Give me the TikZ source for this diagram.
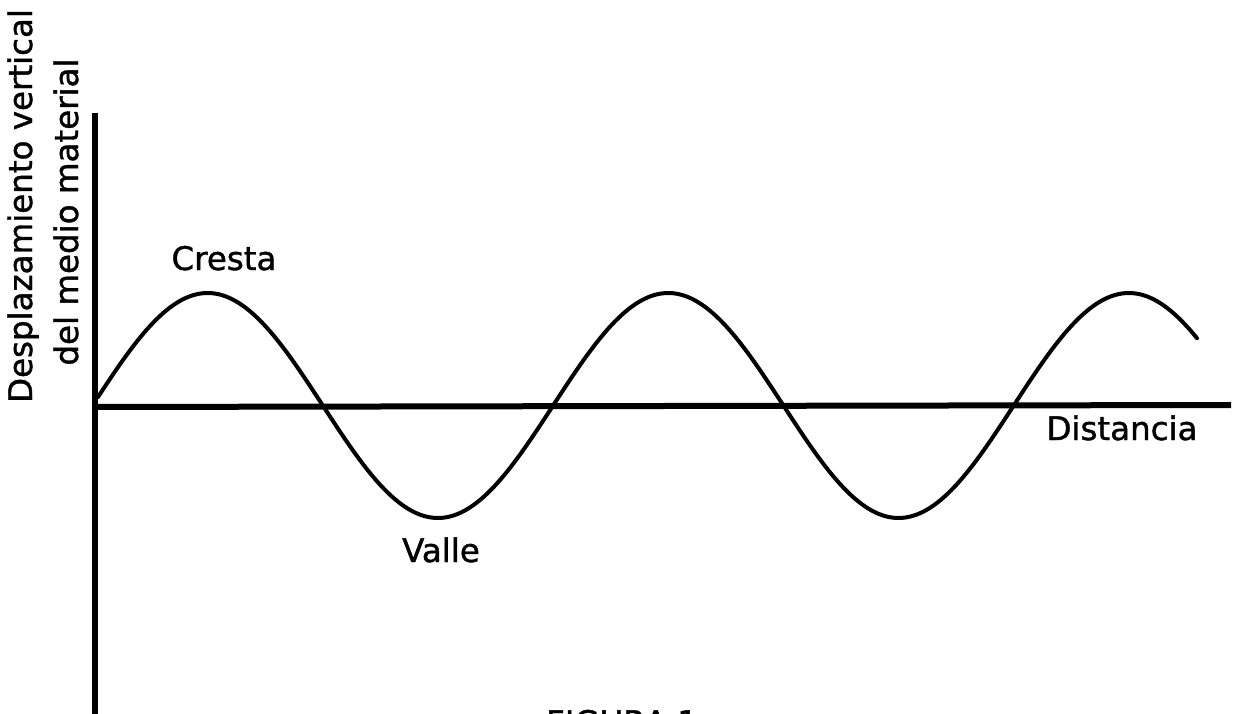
\documentclass[tikz,border=0pt]{standalone}
\usepackage{fontspec}
\setmainfont[FakeBold=1.2]{DejaVu Sans}
\begin{document}
\begin{tikzpicture}[x=1pt,y=-1pt,
  axis/.style={line width=6pt},
  wave/.style={line width=4pt, line cap=round, line join=round},
  lbl/.style={inner sep=0pt, anchor=base, font=\fontsize{32.5}{39}\selectfont}]
\useasboundingbox (0,0) rectangle (1236,714);
\coordinate (O) at (95,407);
\coordinate (ytop) at (95,113);
\coordinate (ybot) at (95,724);
\coordinate (xend) at (1231,405);
\draw[axis] (ytop) -- (ybot);
\draw[axis] (O) -- (xend);
\draw[wave] plot[domain=98:1197, samples=220, smooth] (\x, {405.5-112.5*sin(0.781589*(\x-92.5))});
\node[lbl, rotate=90] (ylab1) at (32,206) {Desplazamiento vertical};
\node[lbl, rotate=90] (ylab2) at (78,212) {del medio material};
\node[lbl] (cresta) at (224,270) {Cresta};
\node[lbl] (valle) at (441,562) {Valle};
\node[lbl] (dist) at (1122,440) {Distancia};
\node[lbl] (fig) at (622,734) {FIGURA 1};
\end{tikzpicture}
\end{document}
